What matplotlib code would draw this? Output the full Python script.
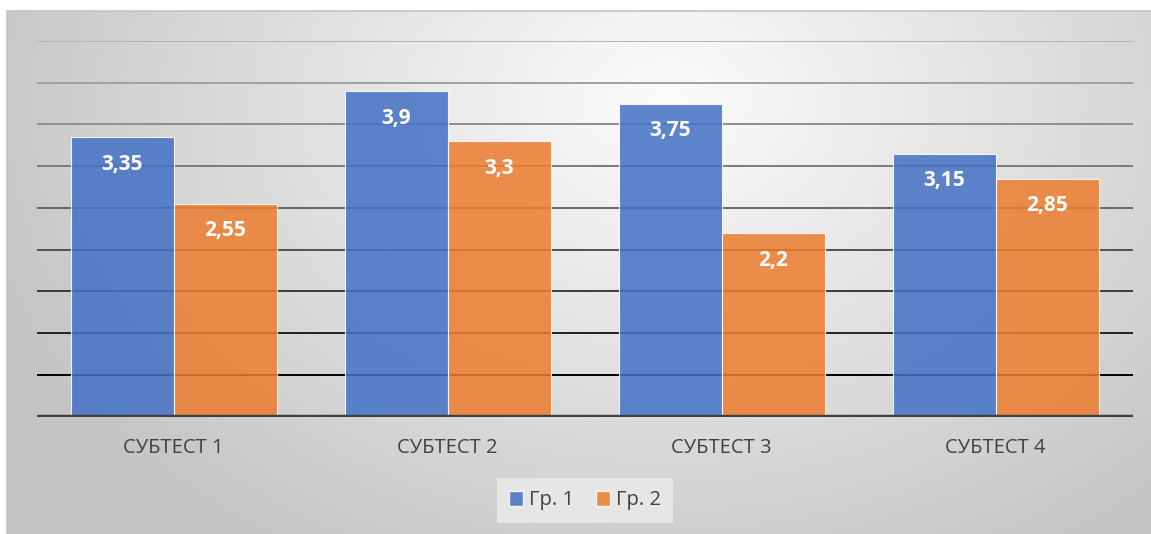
import numpy as np
import matplotlib
matplotlib.use("Agg")
import matplotlib.pyplot as plt
from matplotlib.patches import Patch
from matplotlib.lines import Line2D

categories = ["СУБТЕСТ 1", "СУБТЕСТ 2", "СУБТЕСТ 3", "СУБТЕСТ 4"]
series_names = ["Гр. 1", "Гр. 2"]
group1 = [3.35, 3.9, 3.75, 3.15]
group2 = [2.55, 3.3, 2.2, 2.85]
yticks = [0, 0.5, 1, 1.5, 2, 2.5, 3, 3.5, 4, 4.5]

W, H = 1151, 534
fig = plt.figure(figsize=(W / 100, H / 100), dpi=100)
fig.patch.set_facecolor("white")

# background chart area with radial gradient
bx0, by_top = 7, 11
bg = fig.add_axes([bx0 / W, 0, 1 - bx0 / W, (H - by_top) / H])
bw, bh = W - bx0, H - by_top
xx, yy = np.meshgrid(np.arange(bw), np.arange(bh))
cx, cy = 660, 90
r = np.sqrt(((xx - cx) / 720.0) ** 2 + ((yy - cy) / 540.0) ** 2)
val = 0.99 - 0.22 * np.clip(r, 0, 1.0) ** 1.0
img = np.dstack([val, val, val])
bg.imshow(img, aspect="auto", extent=[0, bw, bh, 0], interpolation="bilinear")
bg.set_xlim(0, bw)
bg.set_ylim(bh, 0)
bg.axis("off")
fig.add_artist(Line2D([bx0 / W, 1], [(H - by_top) / H] * 2, color="#c4c4c4", lw=1.2))
fig.add_artist(Line2D([bx0 / W] * 2, [0, (H - by_top) / H], color="#c4c4c4", lw=1.2))

ax = fig.add_axes([36.7 / W, (H - 416.7) / H, (1132.7 - 36.7) / W, (416.7 - 41) / H])
ax.patch.set_alpha(0)
ax.set_xlim(-0.5, len(categories) - 0.5)
ax.set_ylim(0, 4.5)

# gridlines with colour varying from black (bottom) to light grey (top)
for t in yticks[1:]:
    f = (t - 0.5) / 4.0
    c = 0.0 + 0.70 * f ** 0.8
    ax.axhline(t, color=(c, c, c), lw=1.4, zorder=1)

x = np.arange(len(categories))
bwid = 0.376
blue = "#4472C4"
orange = "#ED7D31"
ax.bar(x - bwid / 2, group1, bwid, color=blue, alpha=0.86, edgecolor="white",
       linewidth=0.8, zorder=2)
ax.bar(x + bwid / 2, group2, bwid, color=orange, alpha=0.86, edgecolor="white",
       linewidth=0.8, zorder=2)

ax.axhline(0, color="#404040", lw=3.2, zorder=3)

for xs, vals in ((x - bwid / 2, group1), (x + bwid / 2, group2)):
    for xi, v in zip(xs, vals):
        ax.annotate(f"{v:g}".replace(".", ","), (xi, v), xytext=(0, -27),
                    textcoords="offset pixels", ha="center", va="center",
                    color="white", fontsize=15, fontweight="bold",
                    family="Open Sans", zorder=4)

ax.set_xticks(x)
ax.set_xticklabels(categories, fontsize=14.5, color="#404040", family="Open Sans")
ax.tick_params(axis="x", length=0, pad=15)
ax.set_yticks([])
for s in ax.spines.values():
    s.set_visible(False)

handles = [Patch(facecolor=blue, alpha=0.86, edgecolor="white", label=series_names[0]),
           Patch(facecolor=orange, alpha=0.86, edgecolor="white", label=series_names[1])]
leg = fig.legend(handles=handles, loc="center", bbox_to_anchor=(585 / W, 1 - 500.5 / H),
                 ncol=2, frameon=True, facecolor="#e6e6e6", edgecolor="none",
                 framealpha=1, fancybox=False, handlelength=0.7, handleheight=0.7,
                 handletextpad=0.3, columnspacing=1.1, borderpad=0.6,
                 prop={"family": "Open Sans", "size": 14.5})
for t in leg.get_texts():
    t.set_color("#404040")

fig.savefig("out.png", dpi=100)
